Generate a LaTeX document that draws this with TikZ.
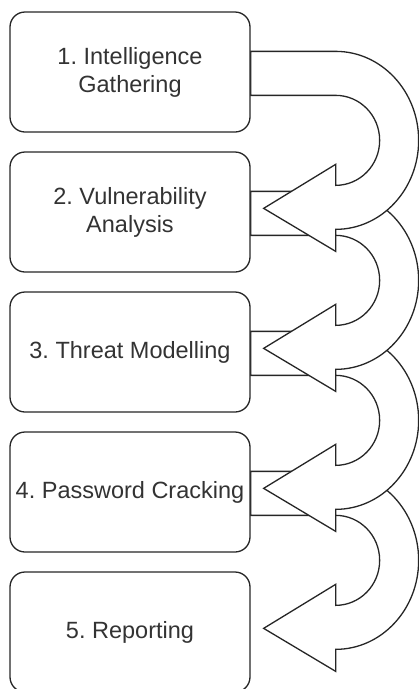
\documentclass[tikz,border=0pt]{standalone}
\usepackage{fontspec}
\setmainfont{Liberation Sans}
\usetikzlibrary{calc,backgrounds}
\frenchspacing
\begin{document}
\begin{tikzpicture}[x=1pt,y=-1pt,
  stage/.style={draw=black!85, line width=1.3pt, rounded corners=15pt, fill=white,
    minimum width=240pt, minimum height=120pt, inner sep=0pt, align=center,
    font=\fontsize{23.5}{28}\selectfont, text=black!80},
  uturn/.style={draw=black!85, line width=1.3pt, fill=white, line join=miter}]
\useasboundingbox (0,0) rectangle (419,689);
\clip (0,0) rectangle (419,689);

% the five phases
\node[stage] (s1) at (130,72)  {1. Intelligence\\Gathering};
\node[stage] (s2) at (130,212) {2. Vulnerability\\Analysis};
\node[stage] (s3) at (130,352) {3. Threat Modelling};
\node[stage] (s4) at (130,492) {4. Password Cracking};
\node[stage] (s5) at (130,632) {5. Reporting};

% U-turn block arrows, later ones first so each earlier arrow lies on top
\begin{scope}[on background layer]
\foreach \i in {4,3,2,1}{
  \coordinate (p\i) at (s\i.north east);
  \draw[uturn] ($(p\i)+(0,40)$) -- ++(85,0)
    arc[start angle=-90, end angle=90, x radius=83, y radius=89]
    -- ++(0,22) -- ++(-72,-43) -- ++(72,-44) -- ++(0,21)
    arc[start angle=90, end angle=-90, x radius=44, y radius=45]
    -- ++(-85,0) -- cycle;
}
\end{scope}
\end{tikzpicture}
\end{document}
